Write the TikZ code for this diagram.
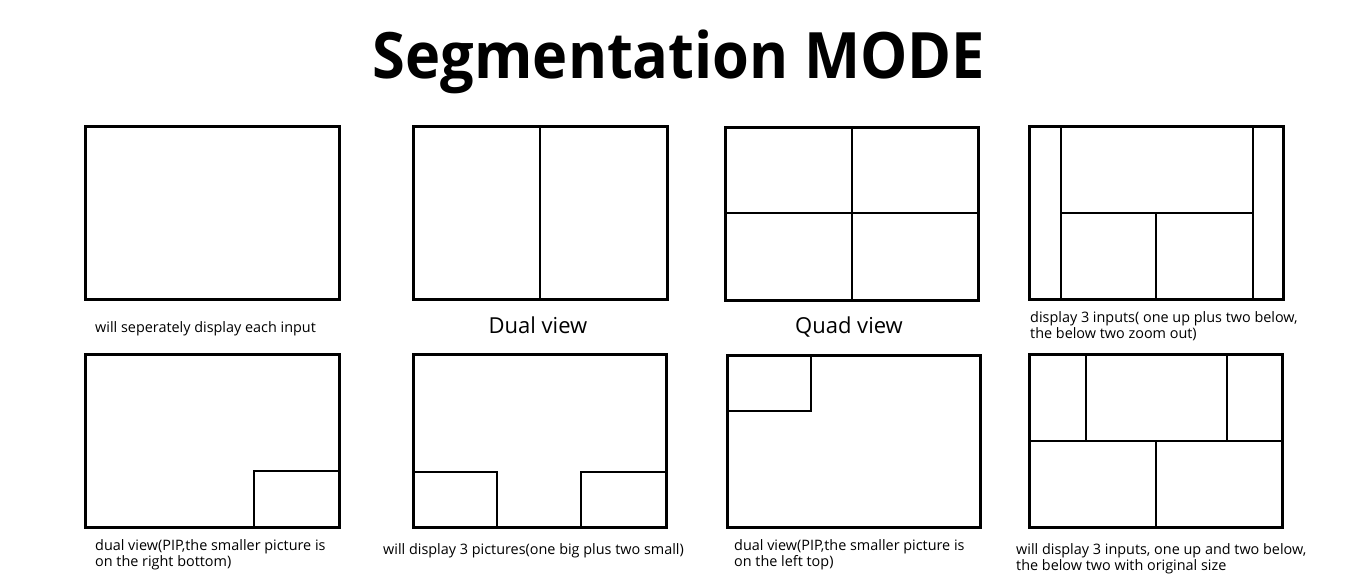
\documentclass[tikz,border=0pt]{standalone}
\usepackage{fontspec}
\setmainfont{Open Sans}
\begin{document}
\begin{tikzpicture}[x=1pt,y=-1pt,
  frame/.style={draw=black,line width=3pt},
  divider/.style={draw=black,line width=2pt},
  caption/.style={font=\fontsize{14.4}{16}\selectfont,anchor=west,align=left,inner sep=0pt},
  bigcap/.style={font=\fontsize{22}{26}\selectfont,inner sep=0pt,anchor=base}]
\useasboundingbox[fill=white] (0,0) rectangle (1366,584);
% title
\node[font=\fontsize{64}{70}\selectfont\bfseries,inner sep=0pt,anchor=base] (title) at (679,78) {\scalebox{0.93}[1]{Segmentation MODE}};
% box 1
\draw[frame] (85,126) rectangle (339,299);
\node[caption] (c1) at (95,329) {will seperately display each input};
% box 2
\draw[divider] (540,126) -- (540,299);
\draw[frame] (413,126) rectangle (667,299);
\node[bigcap] (c2) at (538,333) {Dual view};
% box 3
\draw[divider] (852,127) -- (852,300);
\draw[divider] (725,213) -- (978,213);
\draw[frame] (725,127) rectangle (978,300);
\node[bigcap] (c3) at (849,333) {Quad view};
% box 4
\draw[divider] (1061,126) -- (1061,299);
\draw[divider] (1253,126) -- (1253,299);
\draw[divider] (1061,213) -- (1253,213);
\draw[divider] (1156,213) -- (1156,299);
\draw[frame] (1029,126) rectangle (1283,299);
\node[caption] (c4) at (1030,326) {display 3 inputs( one up plus two below,\\the below two zoom out)};
% box 5
\draw[divider] (254,527) -- (254,471) -- (339,471);
\draw[frame] (85,354) rectangle (339,527);
\node[caption] (c5) at (95,555) {dual view(PIP,the smaller picture is\\on the right bottom)};
% box 6
\draw[divider] (413,472) -- (497,472) -- (497,527);
\draw[divider] (666,472) -- (581,472) -- (581,527);
\draw[frame] (413,354) rectangle (666,527);
\node[caption] (c6) at (383,551) {will display 3 pictures(one big plus two small)};
% box 7
\draw[divider] (727,411) -- (811,411) -- (811,355);
\draw[frame] (727,355) rectangle (980,527);
\node[caption] (c7) at (734,555) {dual view(PIP,the smaller picture is\\on the left top)};
% box 8
\draw[divider] (1086,354) -- (1086,441);
\draw[divider] (1227,354) -- (1227,441);
\draw[divider] (1029,441) -- (1282,441);
\draw[divider] (1156,441) -- (1156,527);
\draw[frame] (1029,354) rectangle (1282,527);
\node[caption] (c8) at (1016,559) {will display 3 inputs, one up and two below,\\the below two with original size};
\end{tikzpicture}
\end{document}
